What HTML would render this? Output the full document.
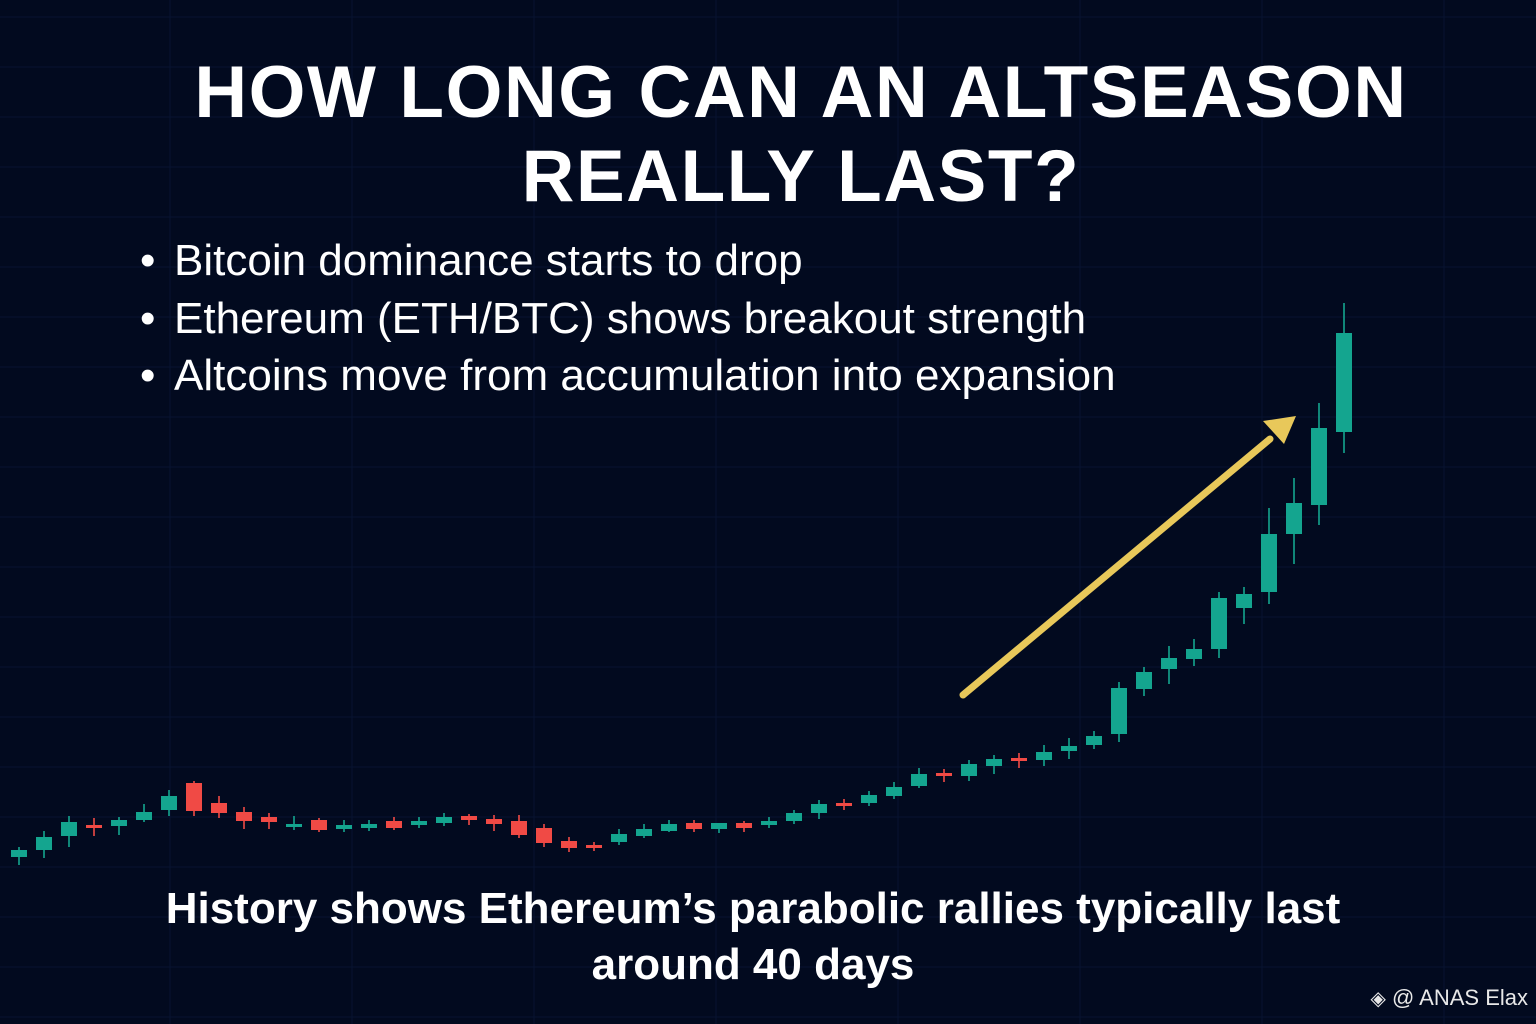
<!DOCTYPE html>
<html><head><meta charset="utf-8">
<style>
html,body{margin:0;padding:0;background:#020a1f;}
#root{position:relative;width:1536px;height:1024px;overflow:hidden;background:#020a1f;font-family:"Liberation Sans",sans-serif;color:#fff;}
svg{position:absolute;left:0;top:0;}
.title{position:absolute;left:0;width:1602px;text-align:center;font-weight:bold;font-size:73px;letter-spacing:1.6px;}
.bul{position:absolute;left:140px;font-size:44px;}
.bul span{position:absolute;left:34px;white-space:nowrap;}
.foot{position:absolute;left:0;width:1506px;text-align:center;font-weight:bold;font-size:44px;}
</style></head>
<body>
<div id="root">
<svg id="chart" width="1536" height="1024"></svg>
<div class="title" style="top:51px">HOW LONG CAN AN ALTSEASON</div>
<div class="title" style="top:135px">REALLY LAST?</div>
<div class="bul" style="top:236px">•<span>Bitcoin dominance starts to drop</span></div>
<div class="bul" style="top:294px">•<span>Ethereum (ETH/BTC) shows breakout strength</span></div>
<div class="bul" style="top:351px">•<span>Altcoins move from accumulation into expansion</span></div>
<div class="foot" style="top:884px">History shows Ethereum’s parabolic rallies typically last</div>
<div class="foot" style="top:940px">around 40 days</div>
<div style="position:absolute;right:8px;top:985px;font-size:22px;color:#e8e8e8;"><span style="font-size:20px">◈</span> @ ANAS Elax</div>
</div>
<script>
const opens  = [43,50,64,75,74,80,90,117,97,88,83,74,80,71,72,79,75,77,84,81,79,72,59,55,58,64,69,77,71,77,75,79,87,97,97,104,114,127,124,134,142,140,149,155,166,211,231,241,251,292,308,366,395,468];
const closes = [50,63,78,72,80,88,104,89,87,79,78,76,70,75,76,72,79,83,80,76,65,57,52,52,66,71,76,71,77,72,79,87,96,94,105,113,126,124,136,141,140,148,154,164,212,228,242,251,302,306,366,397,472,567];
const highs  = [53,69,84,82,83,96,110,119,104,93,87,84,82,80,80,83,83,87,86,85,85,76,63,58,71,76,80,80,77,79,83,90,100,101,109,118,132,131,140,145,147,155,162,169,218,233,254,261,308,313,392,422,497,597];
const lows   = [35,42,53,64,65,78,84,84,82,71,71,70,68,68,69,70,72,74,75,69,62,53,48,49,55,62,68,68,67,68,72,76,81,90,94,101,112,118,119,126,132,134,141,151,158,204,216,234,242,276,296,336,375,447];
const svg = document.getElementById('chart');
const NS = 'http://www.w3.org/2000/svg';
function xScale(i){ return 19 + i*25.0; }
function yScale(v){ return 900 - v; }
for(let y=17;y<1024;y+=50){
  const l=document.createElementNS(NS,'line');
  l.setAttribute('x1',0);l.setAttribute('x2',1536);l.setAttribute('y1',y);l.setAttribute('y2',y);
  l.setAttribute('stroke','#081330');l.setAttribute('stroke-width','1');
  
  
  svg.appendChild(l);
}
for(let x=170;x<1536;x+=182){
  const l=document.createElementNS(NS,'line');
  l.setAttribute('x1',x);l.setAttribute('x2',x);l.setAttribute('y1',0);l.setAttribute('y2',1024);
  l.setAttribute('stroke','#081330');l.setAttribute('stroke-width','1');
  
  
  svg.appendChild(l);
}
for(let i=0;i<opens.length;i++){
  const up = closes[i]>=opens[i];
  const col = up ? '#14a58f' : '#f04a45';
  const cx = xScale(i);
  const g=document.createElementNS(NS,'g');
  
  
  const w=document.createElementNS(NS,'line');
  w.setAttribute('x1',cx);w.setAttribute('x2',cx);
  w.setAttribute('y1',yScale(highs[i]));w.setAttribute('y2',yScale(lows[i]));
  w.setAttribute('stroke',col);w.setAttribute('stroke-width','1.6');
  
  
  g.appendChild(w);
  const top=yScale(Math.max(opens[i],closes[i]));
  const h=Math.max(3,Math.abs(closes[i]-opens[i]));
  const r=document.createElementNS(NS,'rect');
  r.setAttribute('x',cx-8);r.setAttribute('width',16);
  r.setAttribute('y',top);r.setAttribute('height',h);
  r.setAttribute('fill',col);
  
  
  g.appendChild(r);
  svg.appendChild(g);
}
const a=document.createElementNS(NS,'line');
a.setAttribute('x1',963);a.setAttribute('y1',695);a.setAttribute('x2',1270);a.setAttribute('y2',439);
a.setAttribute('stroke','#e8c85a');a.setAttribute('stroke-width','7');a.setAttribute('stroke-linecap','round');


svg.appendChild(a);
const ah=document.createElementNS(NS,'polygon');
ah.setAttribute('points','1296,416 1263,421 1284,444');
ah.setAttribute('fill','#e8c85a');


svg.appendChild(ah);
</script>
</body></html>
